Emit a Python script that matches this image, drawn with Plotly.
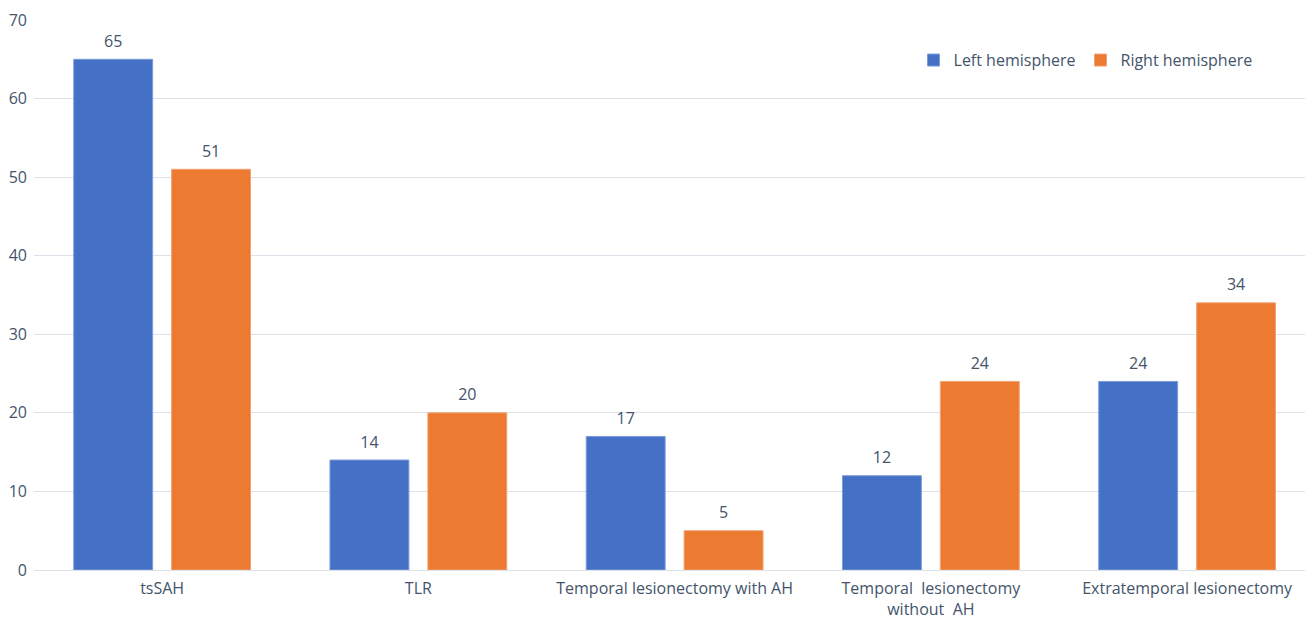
import plotly.graph_objects as go

categories = [
    "tsSAH",
    "TLR",
    "Temporal lesionectomy with AH",
    "Temporal\u00a0 lesionectomy<br>without\u00a0 AH",
    "Extratemporal lesionectomy",
]
left_hemisphere = [65, 14, 17, 12, 24]
right_hemisphere = [51, 20, 5, 24, 34]
y_ticks = [0, 10, 20, 30, 40, 50, 60, 70]

TEXT = "#44546A"
FONT = "Open Sans"

series = [
    ("Left hemisphere", left_hemisphere, "#4470C6", "#7E9BD8", "L"),
    ("Right hemisphere", right_hemisphere, "#EC7A30", "#F3A373", "R"),
]

fig = go.Figure()
for name, values, color, edge, grp in series:
    fig.add_trace(go.Bar(
        name=name, x=categories, y=values, offsetgroup=grp,
        marker=dict(color=color, line=dict(color=edge, width=1)),
    ))
# value labels placed just above each bar, grouped like the bars
for name, values, color, edge, grp in series:
    fig.add_trace(go.Scatter(
        x=categories, y=values, offsetgroup=grp, mode="markers+text",
        text=[str(v) for v in values], textposition="top center",
        marker=dict(size=12, opacity=0), cliponaxis=False,
        textfont=dict(color=TEXT, size=16, family=FONT),
        showlegend=False, hoverinfo="skip",
    ))

fig.update_layout(
    width=1305, height=620,
    margin=dict(l=34, r=0, t=20, b=46),
    paper_bgcolor="white", plot_bgcolor="white",
    barmode="group", bargap=0.236, bargroupgap=0.194,
    scattermode="group", scattergap=0.236,
    font=dict(family=FONT, color=TEXT, size=16),
    legend=dict(
        orientation="h", x=0.692, y=0.927, xanchor="left", yanchor="middle",
        font=dict(size=16, color=TEXT, family=FONT),
        itemwidth=30, traceorder="normal",
    ),
    xaxis=dict(
        range=[-0.5, 4.46], showgrid=False, showline=False, ticks="",
        tickfont=dict(size=16, color=TEXT), ticklabelstandoff=7,
    ),
    yaxis=dict(
        range=[0, 70], tickvals=y_ticks, showgrid=True,
        gridcolor="#DCE1EA", gridwidth=1.3, zeroline=True,
        zerolinecolor="#DCE1EA", zerolinewidth=1.3, showline=False,
        ticks="", tickfont=dict(size=16, color=TEXT), ticklabelstandoff=6,
    ),
)

fig.write_html("out.html")
